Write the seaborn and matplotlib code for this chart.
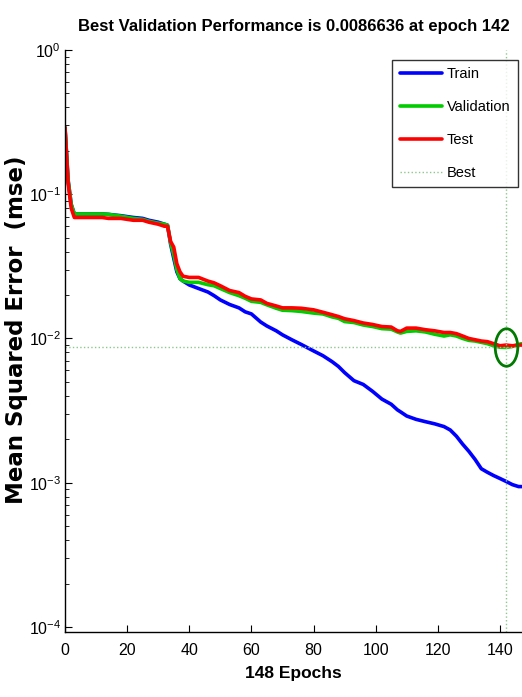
import numpy as np
import pandas as pd
import seaborn as sns
import matplotlib.pyplot as plt
from matplotlib.path import Path
from matplotlib.transforms import Affine2D

# epochs sampled from the training record
epochs = [0, 1, 2, 3, 5, 8, 12, 14, 18, 22, 25, 27, 30, 32, 33, 34, 35, 36, 37, 38,
          40, 43, 46, 48, 50, 53, 56, 58, 60, 63, 65, 68, 70, 73, 76, 80, 83, 86, 88, 90,
          93, 96, 99, 102, 105, 107, 108, 110, 113, 116, 119, 122, 124, 126, 128, 130,
          132, 134, 136, 138, 140, 142, 144, 146, 147]

train = [0.29, 0.125, 0.085, 0.073, 0.073, 0.073, 0.073, 0.0725, 0.071, 0.069, 0.068, 0.066,
         0.064, 0.062, 0.061, 0.045, 0.036, 0.029, 0.026, 0.025, 0.0235, 0.0222, 0.021, 0.0198,
         0.0185, 0.0172, 0.0163, 0.0153, 0.0148, 0.0130, 0.0122, 0.0113, 0.0106, 0.0098, 0.0091,
         0.0082, 0.0076, 0.0069, 0.0064, 0.0058, 0.0051, 0.0048, 0.0043, 0.0038, 0.0035, 0.0032,
         0.0031, 0.0029, 0.00275, 0.00265, 0.00256, 0.00245, 0.00232, 0.0021, 0.00185, 0.00165,
         0.00145, 0.00125, 0.00118, 0.00112, 0.00107, 0.00102, 0.00097, 0.00094, 0.00094]

validation = [0.29, 0.125, 0.085, 0.073, 0.073, 0.073, 0.073, 0.0725, 0.0705, 0.068, 0.067, 0.065,
              0.063, 0.062, 0.061, 0.046, 0.038, 0.030, 0.026, 0.025, 0.0245, 0.0245, 0.0236, 0.0232,
              0.0222, 0.0208, 0.0198, 0.019, 0.0181, 0.0178, 0.0171, 0.0162, 0.0157, 0.0156, 0.0154,
              0.0150, 0.0148, 0.0141, 0.0138, 0.0131, 0.0129, 0.0124, 0.0121, 0.0117, 0.0116, 0.0111,
              0.0109, 0.0112, 0.0113, 0.0111, 0.0107, 0.0104, 0.0106, 0.0104, 0.0100, 0.0097,
              0.0096, 0.0094, 0.0092, 0.0089, 0.0087, 0.0086636, 0.0088, 0.0091, 0.0092]

test = [0.29, 0.12, 0.08, 0.069, 0.069, 0.069, 0.069, 0.068, 0.068, 0.066, 0.066, 0.064,
        0.062, 0.060, 0.060, 0.047, 0.043, 0.033, 0.029, 0.027, 0.0265, 0.0265, 0.025, 0.0243,
        0.0232, 0.0215, 0.0208, 0.0196, 0.0188, 0.0185, 0.0175, 0.0168, 0.0163, 0.0163, 0.0162,
        0.0158, 0.0152, 0.0146, 0.0142, 0.0137, 0.0133, 0.0128, 0.0125, 0.0121, 0.0120, 0.0113,
        0.0112, 0.0118, 0.0118, 0.0115, 0.0113, 0.0110, 0.0110, 0.0108, 0.0104, 0.0100,
        0.0098, 0.0096, 0.0095, 0.0092, 0.0089, 0.0090, 0.0089, 0.0090, 0.0090]

best_epoch = 142
best_perf = 0.0086636
n_epochs = 148

sns.set_style("white")
plt.rcParams['font.family'] = ['Liberation Sans', 'DejaVu Sans']
plt.rcParams['mathtext.fontset'] = 'custom'
plt.rcParams['mathtext.rm'] = 'Liberation Sans'
plt.rcParams['text.color'] = 'black'
plt.rcParams['axes.labelcolor'] = 'black'
plt.rcParams['xtick.color'] = 'black'
plt.rcParams['ytick.color'] = 'black'

fig = plt.figure(figsize=(5.22, 6.97), dpi=100)
ax = fig.add_axes([65/522, 65/697, 457/522, 582/697])

df = pd.DataFrame({'epoch': epochs, 'Train': train, 'Validation': validation, 'Test': test})
colors = {'Train': '#0000ff', 'Validation': '#00cc00', 'Test': '#ff0000'}
for name in ['Train', 'Validation', 'Test']:
    sns.lineplot(data=df, x='epoch', y=name, color=colors[name], lw=2.6, label=name, ax=ax)

best_col = '#8cc88c'
ax.axhline(best_perf, color=best_col, lw=1.0, ls=':', label='Best')
ax.axvline(best_epoch, color=best_col, lw=1.0, ls=':')

# tall ellipse marker around the best point
ell = Path.unit_circle().transformed(Affine2D().scale(0.6, 1.0))
ax.plot([best_epoch], [best_perf], marker=ell, ms=27, mfc='none', mec='#007a00', mew=2.0)

ax.set_yscale('log')
ax.set_xlim(0, 147.1)
ax.set_ylim(10 ** -4.035, 1)
ax.set_xticks(range(0, 141, 20))

for s in ['top', 'right']:
    ax.spines[s].set_visible(False)
for s in ['left', 'bottom']:
    ax.spines[s].set_color('black')
    ax.spines[s].set_linewidth(1.0)

ax.tick_params(axis='both', which='both', direction='in', colors='black', labelsize=11.5)
ax.tick_params(axis='x', which='major', length=5, pad=8)
ax.tick_params(axis='y', which='major', length=5, pad=3)
ax.tick_params(axis='y', which='minor', length=3, left=True)
ax.tick_params(left=True, bottom=True)

ax.set_title('Best Validation Performance is 0.0086636 at epoch 142',
             fontsize=12, fontweight='bold', pad=14, color='black')
ax.set_xlabel(f'{n_epochs} Epochs', fontsize=12.5, fontweight='bold', labelpad=6)
ax.set_ylabel('Mean Squared Error  (mse)', fontsize=16.5, fontweight='bold',
              family=['DejaVu Sans'])
ax.yaxis.set_label_coords(-0.082, 0.52)

leg = ax.legend(loc='upper right', bbox_to_anchor=(0.991, 0.983), fontsize=10.5,
                frameon=True, fancybox=False, handlelength=2.9, labelspacing=1.3,
                borderpad=0.5, handletextpad=0.35, borderaxespad=0)
leg.get_frame().set_edgecolor('black')
leg.get_frame().set_linewidth(1.0)
for t in leg.get_texts():
    t.set_color('black')

plt.savefig('out.png', dpi=100)
